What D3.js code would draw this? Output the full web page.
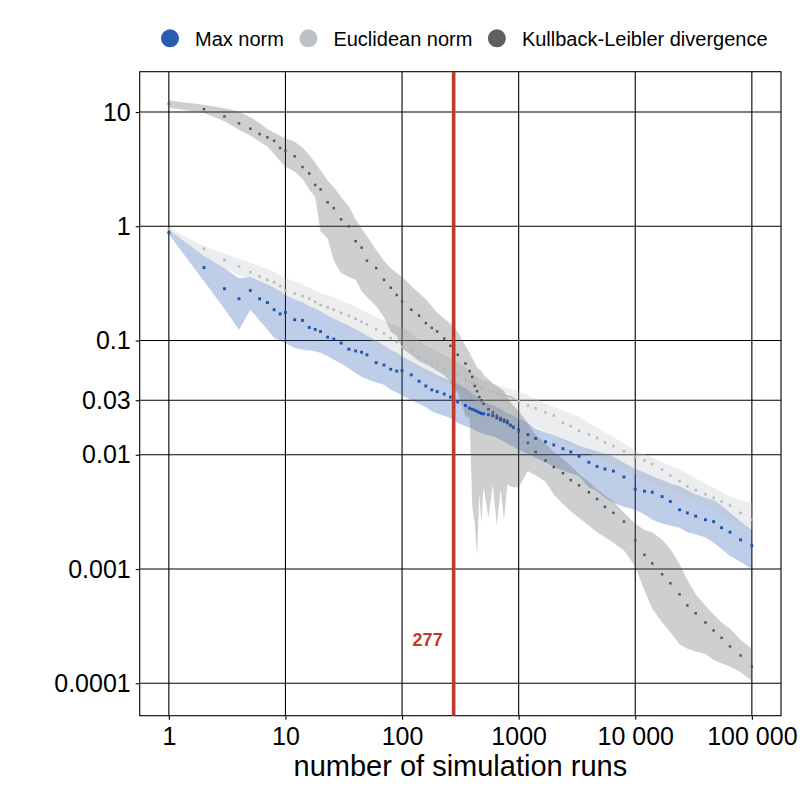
<!DOCTYPE html>
<html>
<head>
<meta charset="utf-8">
<script src="https://cdn.jsdelivr.net/npm/d3@7"></script>
<style>
  html, body { margin: 0; padding: 0; background: #fff; }
  svg { display: block; font-family: "Liberation Sans", Arial, sans-serif; }
</style>
</head>
<body>
<svg id="chart" width="800" height="800"></svg>
<script>
/* Convergence of three distance measures against the number of simulation
   runs. Median as small dots, 90% band as a transparent ribbon. */

const runs = [
    1, 2, 3, 4, 5, 6, 7, 8, 9, 10,
    12, 14, 16, 18, 20, 23, 26, 30, 35, 40,
    45, 50, 60, 70, 80, 90, 100, 120, 140, 160,
    180, 200, 230, 260, 300, 350, 380, 400, 420, 440,
    460, 480, 500, 550, 600, 650, 700, 750, 800, 850,
    900, 1000, 1200, 1400, 1700, 2000, 2400, 2800, 3300, 4000,
    4700, 5500, 6500, 8000, 10000, 12000, 14000, 17000, 20000, 24000,
    28000, 33000, 40000, 47000, 55000, 65000, 80000, 100000
];

const maxNorm = [
    0.88, 0.435, 0.284, 0.232, 0.274, 0.232, 0.215, 0.186, 0.171, 0.176,
    0.152, 0.15, 0.13, 0.125, 0.12, 0.107, 0.103, 0.095, 0.084, 0.081,
    0.079, 0.075, 0.064, 0.061, 0.056, 0.054, 0.0545, 0.05, 0.044, 0.04,
    0.037, 0.0357, 0.034, 0.032, 0.029, 0.027, 0.0255, 0.025, 0.0245, 0.024,
    0.0234, 0.023, 0.0228, 0.0224, 0.022, 0.021, 0.0202, 0.0196, 0.019, 0.0182,
    0.0175, 0.0166, 0.015, 0.0139, 0.013, 0.0122, 0.0113, 0.0106, 0.0097, 0.0086,
    0.0079, 0.0075, 0.0072, 0.0064, 0.005, 0.0048, 0.0047, 0.0043, 0.0039, 0.0033,
    0.0031, 0.0029, 0.0027, 0.0026, 0.0023, 0.0021, 0.0018, 0.0016
];
const maxNormLow = [
    0.85, 0.33, 0.19, 0.124, 0.186, 0.15, 0.125, 0.105, 0.1, 0.095,
    0.086, 0.083, 0.082, 0.08, 0.078, 0.073, 0.068, 0.063, 0.057, 0.052,
    0.048, 0.046, 0.043, 0.041, 0.037, 0.035, 0.033, 0.03, 0.028, 0.026,
    0.024, 0.023, 0.022, 0.021, 0.019, 0.0178, 0.0172, 0.017, 0.0165, 0.016,
    0.0157, 0.0155, 0.0152, 0.0148, 0.0145, 0.014, 0.0135, 0.013, 0.0125, 0.012,
    0.0118, 0.011, 0.0102, 0.0094, 0.0086, 0.0078, 0.0073, 0.0069, 0.0065, 0.0052,
    0.0048, 0.0042, 0.0038, 0.0035, 0.0033, 0.003, 0.0027, 0.0025, 0.0024, 0.0023,
    0.0021, 0.002, 0.0019, 0.0017, 0.0015, 0.0013, 0.00115, 0.001
];
const maxNormHigh = [
    0.93, 0.55, 0.43, 0.35, 0.36, 0.33, 0.31, 0.29, 0.27, 0.25,
    0.23, 0.215, 0.2, 0.19, 0.18, 0.165, 0.155, 0.145, 0.135, 0.125,
    0.118, 0.11, 0.1, 0.09, 0.082, 0.078, 0.072, 0.066, 0.06, 0.056,
    0.053, 0.05, 0.047, 0.044, 0.042, 0.038, 0.036, 0.034, 0.033, 0.032,
    0.031, 0.03, 0.029, 0.028, 0.027, 0.026, 0.025, 0.024, 0.023, 0.0225,
    0.022, 0.021, 0.019, 0.017, 0.0157, 0.0148, 0.0138, 0.013, 0.012, 0.0113,
    0.0107, 0.0102, 0.0096, 0.0085, 0.0075, 0.007, 0.0065, 0.006, 0.0056, 0.0053,
    0.0049, 0.0045, 0.0042, 0.004, 0.0036, 0.0031, 0.0026, 0.0022
];

const euclid = [
    0.95, 0.635, 0.509, 0.445, 0.397, 0.363, 0.34, 0.324, 0.3, 0.274,
    0.258, 0.245, 0.232, 0.218, 0.205, 0.195, 0.186, 0.175, 0.165, 0.155,
    0.146, 0.138, 0.125, 0.115, 0.105, 0.097, 0.088, 0.082, 0.072, 0.067,
    0.063, 0.06, 0.056, 0.053, 0.05, 0.045, 0.044, 0.043, 0.042, 0.041,
    0.0395, 0.0385, 0.0375, 0.0365, 0.0355, 0.0345, 0.0335, 0.033, 0.0325, 0.032,
    0.031, 0.0295, 0.027, 0.0255, 0.0235, 0.022, 0.019, 0.0178, 0.0162, 0.015,
    0.014, 0.0128, 0.0119, 0.0107, 0.0096, 0.0089, 0.0083, 0.0074, 0.0066, 0.0059,
    0.0053, 0.0049, 0.0045, 0.0042, 0.0039, 0.0036, 0.0031, 0.0027
];
const euclidLow = [
    0.93, 0.54, 0.43, 0.37, 0.35, 0.32, 0.3, 0.28, 0.265, 0.25,
    0.23, 0.21, 0.195, 0.185, 0.175, 0.165, 0.155, 0.145, 0.13, 0.12,
    0.11, 0.105, 0.095, 0.087, 0.08, 0.075, 0.07, 0.062, 0.056, 0.052,
    0.048, 0.046, 0.044, 0.041, 0.037, 0.034, 0.032, 0.031, 0.03, 0.0295,
    0.029, 0.028, 0.027, 0.026, 0.025, 0.024, 0.023, 0.0225, 0.022, 0.0215,
    0.021, 0.02, 0.019, 0.0175, 0.016, 0.0145, 0.0132, 0.012, 0.011, 0.0102,
    0.0095, 0.0088, 0.0082, 0.0074, 0.0068, 0.006, 0.0057, 0.0053, 0.005, 0.0046,
    0.0043, 0.004, 0.0036, 0.0033, 0.003, 0.0027, 0.0024, 0.0022
];
const euclidHigh = [
    0.97, 0.67, 0.58, 0.52, 0.48, 0.45, 0.42, 0.4, 0.37, 0.35,
    0.33, 0.31, 0.29, 0.27, 0.26, 0.25, 0.24, 0.225, 0.21, 0.2,
    0.185, 0.175, 0.16, 0.148, 0.14, 0.135, 0.13, 0.115, 0.1, 0.09,
    0.085, 0.08, 0.075, 0.07, 0.065, 0.058, 0.055, 0.052, 0.05, 0.049,
    0.047, 0.046, 0.045, 0.044, 0.042, 0.041, 0.04, 0.039, 0.038, 0.0375,
    0.037, 0.036, 0.033, 0.031, 0.028, 0.026, 0.0245, 0.023, 0.0215, 0.019,
    0.0172, 0.0155, 0.0142, 0.0125, 0.011, 0.0101, 0.0094, 0.0086, 0.008, 0.0074,
    0.0068, 0.0062, 0.0056, 0.0051, 0.0047, 0.0043, 0.004, 0.0038
];

const kl = [
    11.8, 10.6, 9.15, 7.96, 7.14, 6.42, 6.0, 5.6, 4.84, 4.58,
    4.1, 3.3, 2.9, 2.3, 2.1, 1.62, 1.44, 1.15, 1.0, 0.74,
    0.65, 0.5, 0.43, 0.34, 0.29, 0.25, 0.22, 0.186, 0.165, 0.142,
    0.129, 0.12, 0.104, 0.09, 0.075, 0.063, 0.054, 0.048, 0.04, 0.036,
    0.032, 0.03, 0.028, 0.025, 0.0235, 0.022, 0.021, 0.0203, 0.0198, 0.018,
    0.0172, 0.0158, 0.0127, 0.0106, 0.0089, 0.0078, 0.0069, 0.006, 0.0054, 0.0047,
    0.0041, 0.0035, 0.0031, 0.0026, 0.00178, 0.00133, 0.00112, 0.0009, 0.00075, 0.0006,
    0.00048, 0.00041, 0.00034, 0.00029, 0.00025, 0.00021, 0.000175, 0.00014
];
const klLow = [
    10.9, 9.8, 8.3, 7.0, 6.2, 5.5, 5.0, 4.3, 3.7, 3.34,
    3.0, 2.6, 2.1, 1.8, 0.9, 0.78, 0.5, 0.39, 0.36, 0.34,
    0.27, 0.24, 0.2, 0.16, 0.12, 0.11, 0.085, 0.075, 0.066, 0.062,
    0.058, 0.054, 0.05, 0.043, 0.035, 0.022, 0.021, 0.0035, 0.0025, 0.0013,
    0.0045, 0.0025, 0.0053, 0.0028, 0.0055, 0.0024, 0.005, 0.0027, 0.0055, 0.0053,
    0.0052, 0.0052, 0.0072, 0.0066, 0.0058, 0.0045, 0.0037, 0.0032, 0.0028, 0.0024,
    0.0021, 0.0019, 0.0017, 0.00145, 0.00105, 0.00065, 0.00045, 0.00034, 0.00028, 0.00022,
    0.0002, 0.00019, 0.00018, 0.00016, 0.00015, 0.00014, 0.000125, 0.000105
];
const klHigh = [
    12.6, 11.6, 10.8, 10.1, 9.0, 8.0, 7.1, 6.6, 6.2, 5.9,
    5.5, 4.9, 4.2, 3.6, 3.1, 2.5, 2.2, 1.8, 1.5, 1.15,
    0.95, 0.82, 0.62, 0.5, 0.43, 0.39, 0.36, 0.3, 0.26, 0.23,
    0.2, 0.175, 0.155, 0.14, 0.12, 0.09, 0.078, 0.07, 0.064, 0.058,
    0.056, 0.054, 0.05, 0.046, 0.042, 0.04, 0.038, 0.036, 0.032, 0.029,
    0.027, 0.024, 0.019, 0.015, 0.0125, 0.0105, 0.0092, 0.008, 0.0068, 0.0058,
    0.005, 0.0044, 0.0039, 0.0031, 0.0025, 0.0022, 0.0021, 0.0018, 0.0015, 0.0011,
    0.0008, 0.0006, 0.00048, 0.0004, 0.00034, 0.0003, 0.00024, 0.0002
];

const seriesNames = ['Max norm', 'Euclidean norm', 'Kullback-Leibler divergence'];
const xTicks = [1, 10, 100, 1000, 10000, 100000];
const xTickLabels = ['1', '10', '100', '1000', '10 000', '100 000'];
const yTicks = [10, 1, 0.1, 0.03, 0.01, 0.001, 0.0001];
const yTickLabels = ['10', '1', '0.1', '0.03', '0.01', '0.001', '0.0001'];
const cutoff = 277;

const colors = {
    'Max norm': '#2a5cb4',
    'Euclidean norm': '#bec2c6',
    'Kullback-Leibler divergence': '#5d6063',
    cutoff: '#c0392b'
};
const dotColors = {
    'Max norm': '#1f55ae',
    'Euclidean norm': '#b5b9bd',
    'Kullback-Leibler divergence': '#55585b'
};
const dotSize = {'Max norm': 2.9, 'Euclidean norm': 2.5, 'Kullback-Leibler divergence': 2.5};

const panel = {left: 139.7, right: 781, top: 71.7, bottom: 715.7};

function makeSeries(name, mid, lo, hi) {
    return {name, points: runs.map((n, i) => ({n, mid: mid[i], lo: lo[i], hi: hi[i]}))};
}
const series = [
    makeSeries(seriesNames[0], maxNorm, maxNormLow, maxNormHigh),
    makeSeries(seriesNames[1], euclid, euclidLow, euclidHigh),
    makeSeries(seriesNames[2], kl, klLow, klHigh)
];

const svg = d3.select('#chart');

// log10 ranges padded like the original (5% each side)
const x = d3.scaleLog()
    .domain([Math.pow(10, -0.25), Math.pow(10, 5.25)])
    .range([panel.left, panel.right]);
const y = d3.scaleLog()
    .domain([Math.pow(10, -4.284), Math.pow(10, 1.353)])
    .range([panel.bottom, panel.top]);

// grid
const grid = svg.append('g').attr('class', 'grid');
grid.selectAll('line.vx').data(xTicks).join('line')
    .attr('x1', d => x(d)).attr('x2', d => x(d))
    .attr('y1', panel.top).attr('y2', panel.bottom)
    .attr('stroke', '#000').attr('stroke-width', 1.1);
grid.selectAll('line.hy').data(yTicks).join('line')
    .attr('y1', d => y(d)).attr('y2', d => y(d))
    .attr('x1', panel.left).attr('x2', panel.right)
    .attr('stroke', '#000').attr('stroke-width', 1.1);

// ribbons
const area = d3.area()
    .x(d => x(d.n))
    .y0(d => y(d.lo))
    .y1(d => y(d.hi));
svg.append('g').selectAll('path').data(series).join('path')
    .attr('d', s => area(s.points))
    .attr('fill', s => colors[s.name])
    .attr('fill-opacity', 0.3);

// median dots
svg.append('g').selectAll('g').data(series).join('g')
    .attr('fill', s => dotColors[s.name])
    .each(function(s) {
        const size = dotSize[s.name];
        d3.select(this).selectAll('rect').data(s.points).join('rect')
            .attr('x', d => x(d.n) - size / 2)
            .attr('y', d => y(d.mid) - size / 2)
            .attr('width', size)
            .attr('height', size);
    });

// panel border
svg.append('rect')
    .attr('x', panel.left).attr('y', panel.top)
    .attr('width', panel.right - panel.left)
    .attr('height', panel.bottom - panel.top)
    .attr('fill', 'none').attr('stroke', '#000').attr('stroke-width', 1.1);

// cutoff line and label
svg.append('line')
    .attr('x1', x(cutoff)).attr('x2', x(cutoff))
    .attr('y1', panel.top).attr('y2', panel.bottom)
    .attr('stroke', colors.cutoff).attr('stroke-width', 3.6);
svg.append('text')
    .attr('x', x(cutoff) - 26)
    .attr('y', 646)
    .attr('text-anchor', 'middle')
    .attr('font-size', 18)
    .attr('font-weight', 'bold')
    .attr('fill', colors.cutoff)
    .text(cutoff);

// axes
const xAxis = d3.axisBottom(x)
    .tickValues(xTicks)
    .tickFormat((d, i) => xTickLabels[i])
    .tickSize(4).tickSizeOuter(0).tickPadding(8);
const yAxis = d3.axisLeft(y)
    .tickValues(yTicks)
    .tickFormat((d, i) => yTickLabels[i])
    .tickSize(4).tickSizeOuter(0).tickPadding(5);

const gx = svg.append('g')
    .attr('transform', `translate(0,${panel.bottom})`)
    .call(xAxis);
const gy = svg.append('g')
    .attr('transform', `translate(${panel.left},0)`)
    .call(yAxis);
for (const g of [gx, gy]) {
    g.select('.domain').remove();
    g.selectAll('.tick line').attr('stroke', '#000').attr('stroke-width', 1.1);
    g.selectAll('.tick text')
        .attr('fill', '#000')
        .style('font-family', '"Liberation Sans", Arial, sans-serif')
        .style('font-size', '25px');
}

svg.append('text')
    .attr('x', (panel.left + panel.right) / 2)
    .attr('y', 776)
    .attr('text-anchor', 'middle')
    .attr('font-size', 29)
    .attr('fill', '#000')
    .text('number of simulation runs');

// legend across the top
const legend = svg.append('g').attr('class', 'legend');
let lx = 161;
for (const name of seriesNames) {
    legend.append('circle')
        .attr('cx', lx + 9).attr('cy', 38.3).attr('r', 9)
        .attr('fill', colors[name]);
    const t = legend.append('text')
        .attr('x', lx + 34).attr('y', 46)
        .attr('font-size', 20)
        .attr('fill', '#000')
        .text(name);
    lx = lx + 34 + t.node().getComputedTextLength() + 15.5;
}
</script>
</body>
</html>
